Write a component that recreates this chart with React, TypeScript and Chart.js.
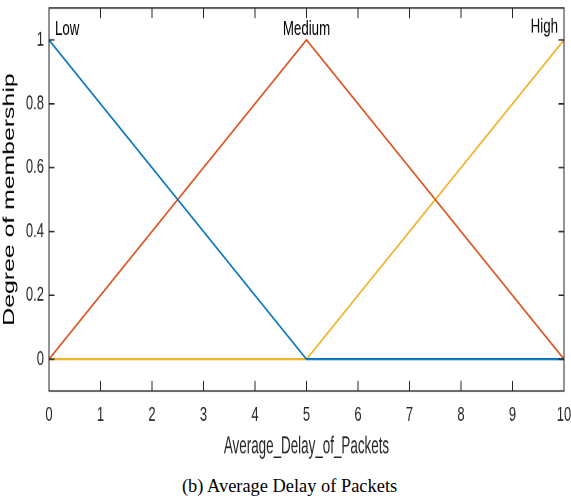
import React, { useEffect, useRef } from "react";
import { Chart, registerables } from "chart.js";

Chart.register(...registerables);

// ---- data ----
const xValues = [0, 5, 10];
const lowValues = [1, 0, 0];
const mediumValues = [0, 1, 0];
const highValues = [0, 0, 1];

const xTicks = [0, 1, 2, 3, 4, 5, 6, 7, 8, 9, 10];
const xTickLabels = ["0", "1", "2", "3", "4", "5", "6", "7", "8", "9", "10"];
const yTicks = [0, 0.2, 0.4, 0.6, 0.8, 1];
const yTickLabels = ["0", "0.2", "0.4", "0.6", "0.8", "1"];

const mfNames = ["Low", "Medium", "High"];
const mfLabelX = [0, 5, 10];
const mfLabelY = [1.015, 1.015, 1.022];

const xLabel = "Average_Delay_of_Packets";
const yLabel = "Degree of membership";
const caption = "(b) Average Delay of Packets";

// ---- layout constants (canvas is stretched vertically like the original figure) ----
const STRETCH = 1.55;
const CANVAS_W = 571;
const CANVAS_H = 300;
const AXIS_COLOR = "#262626";

const toPoints = (ys: number[]) => xValues.map((x, i) => ({ x, y: ys[i] }));

const boxPlugin = {
  id: "matlabBox",
  afterDatasetsDraw(chart: any) {
    const { ctx, chartArea: a, scales } = chart;
    const xs = scales.x;
    const ys = scales.y;
    ctx.save();
    ctx.strokeStyle = AXIS_COLOR;
    ctx.lineWidth = 1;
    ctx.beginPath();
    ctx.rect(a.left, a.top, a.right - a.left, a.bottom - a.top);
    xs.ticks.forEach((t: any) => {
      const px = xs.getPixelForValue(t.value);
      ctx.moveTo(px, a.bottom);
      ctx.lineTo(px, a.bottom - 6.5);
      ctx.moveTo(px, a.top);
      ctx.lineTo(px, a.top + 6.5);
    });
    ys.ticks.forEach((t: any) => {
      const py = ys.getPixelForValue(t.value);
      ctx.moveTo(a.left, py);
      ctx.lineTo(a.left + 5.5, py);
      ctx.moveTo(a.right, py);
      ctx.lineTo(a.right - 5.5, py);
    });
    ctx.stroke();

    ctx.fillStyle = "#000";
    ctx.font = '13.3px "Liberation Sans", Arial, sans-serif';
    ctx.textBaseline = "alphabetic";
    mfNames.forEach((name, i) => {
      const last = i === mfNames.length - 1;
      const align = i === 0 ? "left" : last ? "right" : "center";
      const off = i === 0 ? 6 : last ? -6 : 0;
      ctx.textAlign = align;
      ctx.fillText(name, xs.getPixelForValue(mfLabelX[i]) + off, ys.getPixelForValue(mfLabelY[i]));
    });

    // x-axis label, horizontally condensed like the original
    ctx.fillStyle = AXIS_COLOR;
    ctx.font = '15.7px "Liberation Sans", Arial, sans-serif';
    ctx.textAlign = "center";
    ctx.textBaseline = "middle";
    const cx = (a.left + a.right) / 2;
    const cy = xs.bottom - 15.7 * 1.2 / 2;
    ctx.translate(cx, cy);
    ctx.scale(0.855, 1);
    ctx.fillText(xLabel, 0, 0);
    ctx.restore();
  },
};

export default function App() {
  const canvasRef = useRef<HTMLCanvasElement | null>(null);

  useEffect(() => {
    if (!canvasRef.current) return;
    const tickFont = { family: '"Liberation Sans", Arial, sans-serif', size: 13 };
    const chart = new Chart(canvasRef.current, {
      type: "line",
      data: {
        datasets: [
          { label: mfNames[0], data: toPoints(lowValues), borderColor: "#0072BD", borderWidth: 1.3, pointRadius: 0, fill: false, tension: 0 },
          { label: mfNames[1], data: toPoints(mediumValues), borderColor: "#D95319", borderWidth: 1.3, pointRadius: 0, fill: false, tension: 0 },
          { label: mfNames[2], data: toPoints(highValues), borderColor: "#EDB120", borderWidth: 1.3, pointRadius: 0, fill: false, tension: 0 },
        ],
      },
      options: {
        responsive: false,
        animation: false,
        devicePixelRatio: 2,
        layout: { padding: { top: 5.16, right: 7, bottom: 2.5, left: 0 } },
        plugins: { legend: { display: false }, tooltip: { enabled: false } },
        scales: {
          x: {
            type: "linear",
            position: "bottom",
            min: 0,
            max: 10,
            grid: { display: false, drawTicks: false },
            border: { display: false },
            afterBuildTicks: (s: any) => {
              s.ticks = xTicks.map((v) => ({ value: v }));
            },
            afterFit: (s: any) => {
              s.height = 45.2;
              s.paddingLeft = 0;
              s.paddingRight = 0;
            },
            ticks: {
              autoSkip: false,
              maxRotation: 0,
              padding: 7.9,
              color: AXIS_COLOR,
              font: tickFont,
              callback: (_v: any, i: number) => xTickLabels[i],
            },
            title: { display: false, text: xLabel },
          },
          y: {
            type: "linear",
            position: "left",
            min: -0.1,
            max: 1.1,
            grid: { display: false, drawTicks: false },
            border: { display: false },
            afterBuildTicks: (s: any) => {
              s.ticks = yTicks.map((v) => ({ value: v }));
            },
            afterFit: (s: any) => {
              s.width = 49;
              s.paddingTop = 0;
              s.paddingBottom = 0;
            },
            ticks: {
              padding: 5,
              color: AXIS_COLOR,
              font: tickFont,
              callback: (_v: any, i: number) => yTickLabels[i],
            },
            title: {
              display: true,
              text: yLabel,
              color: "#000",
              font: { family: '"Liberation Sans", Arial, sans-serif', size: 16 },
              padding: { top: 0, bottom: 0 },
            },
          },
        },
      },
      plugins: [boxPlugin],
    });
    return () => chart.destroy();
  }, []);

  return (
    <div style={{ position: "absolute", left: 0, top: 0, width: 571, height: 501, background: "#fff" }}>
      <div
        style={{
          position: "absolute",
          left: 0,
          top: 0,
          width: CANVAS_W,
          height: CANVAS_H,
          transform: `scaleY(${STRETCH})`,
          transformOrigin: "0 0",
        }}
      >
        <canvas ref={canvasRef} width={CANVAS_W} height={CANVAS_H} style={{ display: "block" }} />
      </div>
      <div
        style={{
          position: "absolute",
          left: 182,
          top: 475.8,
          fontFamily: '"Liberation Serif", "Times New Roman", serif',
          fontSize: 18.4,
          lineHeight: "20px",
          whiteSpace: "nowrap",
          color: "#000",
        }}
      >
        {caption}
      </div>
    </div>
  );
}
